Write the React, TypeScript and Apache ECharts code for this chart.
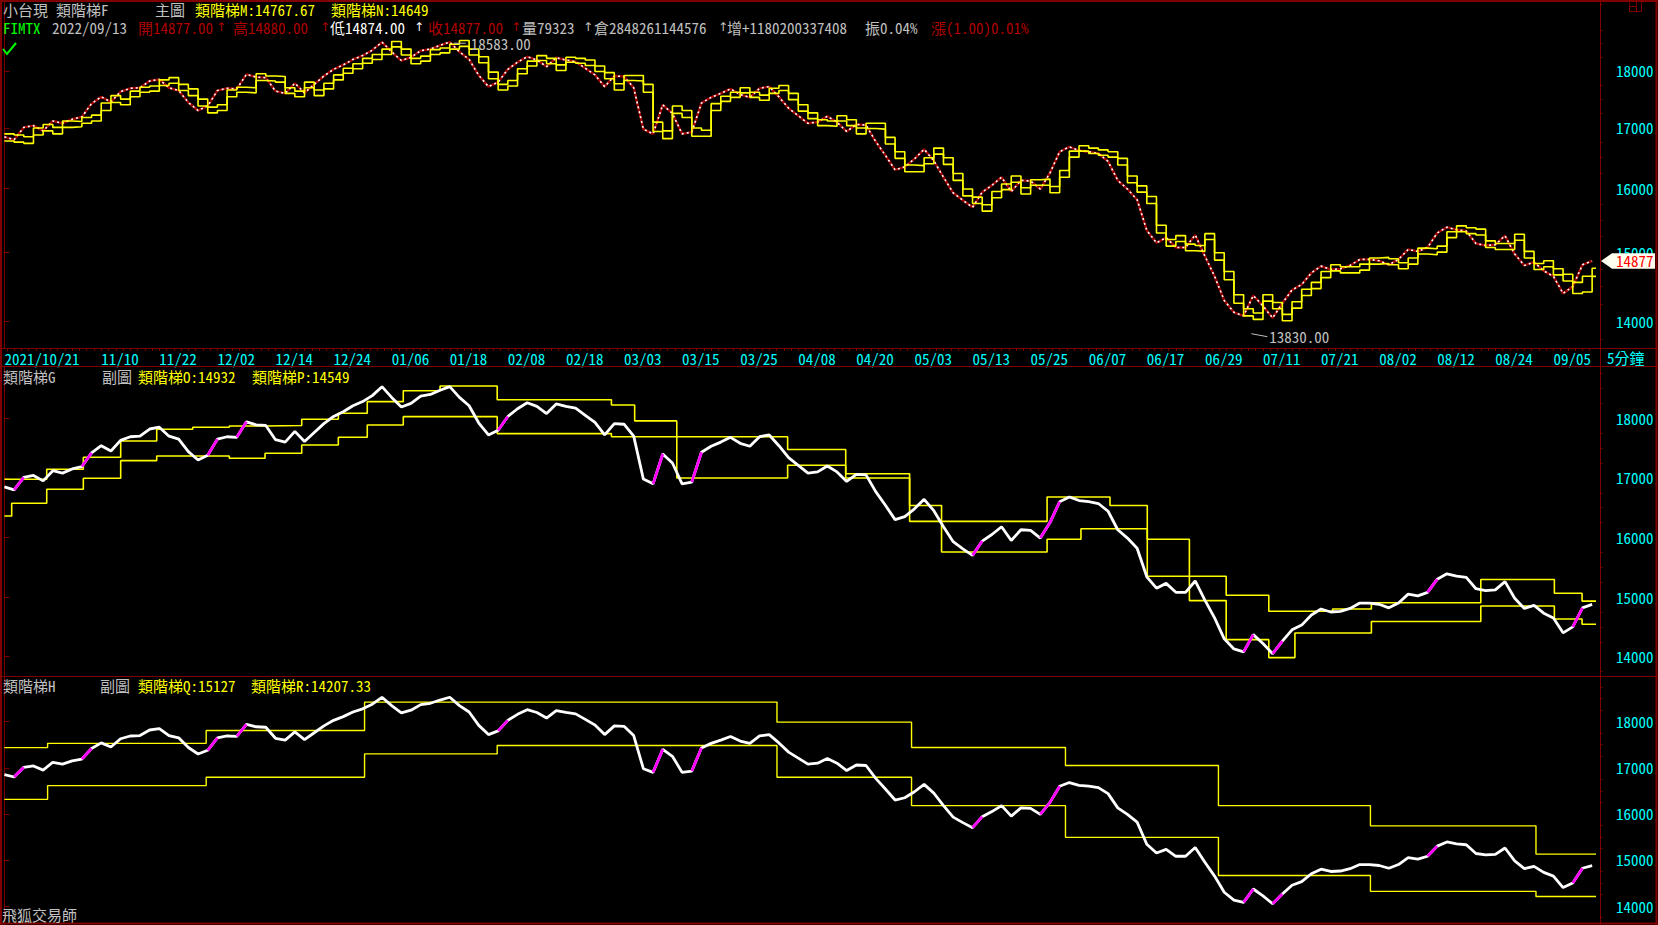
import React, { useEffect, useRef } from "react";
import * as echarts from "echarts";

const WIDTH = 1658;
const HEIGHT = 925;
const FONT = "'Noto Sans Mono CJK TC', 'Noto Sans Mono CJK SC', 'DejaVu Sans Mono', 'Noto Sans CJK TC', monospace";
const ARROW_FONT = "'DejaVu Sans', sans-serif";

const FRAME = "#800000";
const CYAN = "#00ffff";
const YELLOW = "#ffff00";
const GRAY = "#c0c0c0";
const DARKRED = "#b00000";
const MAGENTA = "#ff00ff";

// 小台現 closes, one sample per bar slot on the x axis
const closes = [
  16850, 16800, 17010, 17040, 16950, 17120, 17080, 17150, 17190, 17420,
  17540, 17450, 17630, 17690, 17700, 17820, 17850, 17700, 17650, 17440,
  17300, 17380, 17650, 17690, 17680, 17940, 17890, 17880, 17640, 17600,
  17780, 17610, 17760, 17910, 18030, 18110, 18210, 18280, 18380, 18530,
  18350, 18190, 18250, 18370, 18400, 18470, 18530, 18350, 18210, 17920,
  17720, 17800, 18030, 18160, 18260, 18200, 18080, 18240, 18200, 18170,
  18050, 17930, 17720, 17910, 17900, 17700, 16980, 16900, 17400, 17250,
  16900, 16930, 17430, 17530, 17600, 17680, 17580, 17530, 17690, 17720,
  17540, 17340, 17210, 17080, 17100, 17200, 17100, 16940, 17060, 17050,
  16770, 16540, 16300, 16350, 16480, 16640, 16450, 16180, 15930, 15810,
  15700, 15940, 16050, 16180, 15950, 16130, 16120, 15990, 16250, 16600,
  16680, 16620, 16600, 16570, 16440, 16130, 15990, 15820, 15340, 15150,
  15230, 15080, 15080, 15270, 14950, 14650, 14300, 14130, 14080, 14370,
  14220, 14050, 14260, 14450, 14530, 14700, 14800, 14750, 14760, 14810,
  14900, 14900, 14880, 14820, 14900, 15050, 15020, 15080, 15300, 15390,
  15350, 15330, 15140, 15110, 15120, 15260, 14980, 14810, 14860, 14730,
  14650, 14400, 14500, 14820, 14877,
];

// daily staircase 類階梯M (upper) and 類階梯N (lower), one level per bar slot
const stepM = [
  16900, 16880, 16850, 17000, 17060, 17010, 17120, 17110, 17180, 17220,
  17430, 17560, 17500, 17640, 17710, 17730, 17840, 17880, 17760, 17680,
  17500, 17360, 17400, 17660, 17710, 17700, 17950, 17910, 17900, 17700,
  17640, 17800, 17660, 17780, 17930, 18050, 18130, 18230, 18300, 18400,
  18540, 18400, 18230, 18270, 18390, 18420, 18490, 18560, 18400, 18260,
  17980, 17760, 17830, 18040, 18180, 18280, 18230, 18110, 18250, 18230,
  18200, 18090, 17970, 17770, 17920, 17920, 17760, 17100, 16950, 17380,
  17300, 17000, 16960, 17420, 17550, 17620, 17700, 17620, 17570, 17690,
  17740, 17600, 17400, 17260, 17140, 17120, 17210, 17140, 17000, 17080,
  17080, 16840, 16600, 16380, 16370, 16500, 16660, 16500, 16240, 15990,
  15860, 15740, 15950, 16070, 16200, 16010, 16140, 16150, 16030, 16290,
  16610, 16700, 16660, 16630, 16600, 16490, 16200, 16040, 15870, 15420,
  15200, 15260, 15130, 15110, 15290, 15000, 14720, 14380, 14180, 14120,
  14380, 14270, 14100, 14280, 14460, 14560, 14720, 14820, 14790, 14790,
  14830, 14920, 14930, 14910, 14850, 14920, 15070, 15060, 15100, 15320,
  15410, 15380, 15360, 15180, 15140, 15140, 15280, 15020, 14840, 14880,
  14760, 14680, 14560, 14650, 14768,
];
const stepN = [
  16780, 16760, 16740, 16880, 16950, 16900, 17010, 17020, 17080, 17120,
  17300, 17440, 17400, 17540, 17620, 17640, 17740, 17780, 17650, 17560,
  17380, 17260, 17300, 17540, 17620, 17610, 17830, 17820, 17800, 17600,
  17540, 17700, 17560, 17680, 17840, 17960, 18040, 18140, 18210, 18300,
  18440, 18290, 18130, 18180, 18300, 18330, 18400, 18450, 18290, 18150,
  17860, 17660, 17730, 17950, 18090, 18190, 18130, 18010, 18160, 18140,
  18100, 17990, 17860, 17660, 17830, 17820, 17620, 16940, 16820, 17250,
  17180, 16860, 16860, 17300, 17460, 17530, 17610, 17530, 17480, 17600,
  17650, 17490, 17290, 17160, 17040, 17030, 17120, 17040, 16900, 16990,
  16980, 16730, 16490, 16270, 16270, 16400, 16560, 16390, 16130, 15880,
  15760, 15640, 15850, 15980, 16100, 15910, 16050, 16050, 15930, 16180,
  16510, 16610, 16570, 16540, 16510, 16380, 16090, 15940, 15760, 15300,
  15100, 15170, 15030, 15020, 15200, 14890, 14600, 14260, 14080, 14030,
  14290, 14180, 14010, 14190, 14370, 14470, 14630, 14730, 14700, 14700,
  14740, 14830, 14840, 14820, 14760, 14830, 14980, 14970, 15010, 15230,
  15320, 15290, 15270, 15080, 15050, 15050, 15190, 14920, 14750, 14790,
  14670, 14580, 14400, 14420, 14649,
];

// date labels along the time axis and the bar slot each starts at
const dateLabels = [
  "2021/10/21", "11/10", "11/22", "12/02", "12/14", "12/24", "01/06", "01/18", "02/08",
  "02/18", "03/03", "03/15", "03/25", "04/08", "04/20", "05/03", "05/13", "05/25",
  "06/07", "06/17", "06/29", "07/11", "07/21", "08/02", "08/12", "08/24", "09/05",
];
const dateLabelSlots = [
  0, 10, 16, 22, 28, 34, 40, 46, 52, 58, 64, 70, 76, 82, 88, 94, 100, 106,
  112, 118, 124, 130, 136, 142, 148, 154, 160,
];

// weekly staircase levels: [slot where the level starts, level]
const stepO = [
  [0, 16976], [0.75, 16976], [4.37, 17144], [8.15, 17346], [12.01, 17619], [15.73, 17815],
  [19.45, 17849], [23.23, 17870], [26.92, 17880], [30.71, 17983], [34.49, 18084], [37.48, 18279],
  [41.2, 18463], [45.0, 18541], [48.8, 18541], [50.9, 18310], [54.7, 18310], [58.5, 18310],
  [62.7, 18222], [65.1, 17956], [69.45, 17690], [73.2, 17690], [77, 17690], [80.9, 17477],
  [86.9, 17069], [90.2, 17069], [93.5, 16537], [96.8, 16271], [100.5, 16271], [104.2, 16271],
  [107.7, 16679], [111.2, 16679], [114.2, 16537], [118.05, 15970], [122.4, 15349], [126.2, 15030],
  [130.6, 14763], [133.3, 14763], [137.2, 14800], [141.2, 14906], [145, 14906], [148.8, 14906],
  [152.5, 15296], [156.3, 15296], [160.1, 15064], [162.96, 14932], [164.4, 14932],
];
const stepP = [
  [0, 16360], [0.75, 16574], [4.37, 16809], [8.15, 16993], [12.01, 17289], [15.73, 17367],
  [19.45, 17367], [23.23, 17329], [26.92, 17413], [30.71, 17552], [34.49, 17681], [37.48, 17888],
  [41.2, 18027], [45.0, 18027], [48.8, 18027], [50.9, 17743], [54.7, 17743], [58.5, 17743],
  [62.7, 17690], [65.1, 17690], [69.45, 16998], [73.2, 16998], [77, 16998], [80.9, 17211],
  [86.9, 16998], [90.2, 16998], [93.5, 16271], [96.8, 15757], [100.5, 15757], [104.2, 15757],
  [107.7, 15970], [111.2, 16147], [114.2, 16147], [118.05, 15349], [122.4, 14941], [126.2, 14286],
  [130.6, 13985], [133.3, 14397], [137.2, 14397], [141.2, 14590], [145, 14590], [148.8, 14590],
  [152.5, 14850], [156.3, 14850], [160.1, 14632], [162.96, 14544], [164.4, 14544],
];

// monthly staircase levels
const stepQ = [
  [0, 17438], [4.46, 17530], [20.84, 17810], [37.2, 18425], [50.9, 18425], [62.45, 18425],
  [79.8, 17990], [93.7, 17440], [109.6, 17050], [125.4, 16180], [141.1, 15740], [158.2, 15127],
  [164.4, 15127],
];
const stepR = [
  [0, 16315], [4.46, 16614], [20.84, 16796], [37.2, 17301], [50.9, 17484], [62.45, 17484],
  [79.8, 16796], [93.7, 16178], [109.6, 15490], [125.4, 14664], [141.1, 14319], [158.2, 14207.33],
  [164.4, 14207.33],
];

const lastClose = 14877;
const rangeHigh = { slot: 46.4, value: 18583 };
const rangeLow = { slot: 128.8, value: 13830 };

const priceTicks = [14000, 15000, 16000, 17000, 18000];

const X_MIN = -0.25;
const X_MAX = 164.4;

// panel value ranges (top panel is on a log scale)
const TOP_MIN = 13633;
const TOP_MAX = 19290;
const MID_MIN = 13676;
const MID_MAX = 18877;
const BOT_MIN = 13632;
const BOT_MAX = 18970;

function minorTicks(lo: number, hi: number) {
  const out: number[] = [];
  for (let v = Math.ceil(lo / 250) * 250; v <= hi; v += 250) {
    if (v % 1000 !== 0) out.push(v);
  }
  return out;
}

function yPair(gridIndex: number, min: number, max: number, toAxis: (v: number) => number, fromAxis: (v: number) => number) {
  return [
    {
      type: "value", gridIndex, position: "right", offset: 4, min: toAxis(min), max: toAxis(max),
      axisLine: { show: true, lineStyle: { color: FRAME, width: 1 } },
      axisTick: { show: true, customValues: priceTicks.map(toAxis), length: 5, lineStyle: { color: FRAME } },
      axisLabel: {
        show: true, customValues: priceTicks.map(toAxis), margin: 16, align: "left",
        color: CYAN, fontFamily: FONT, fontSize: 15,
        formatter: (v: number) => String(Math.round(fromAxis(v))),
      },
      splitLine: { show: false },
    },
    {
      type: "value", gridIndex, position: "right", offset: 4, min: toAxis(min), max: toAxis(max),
      axisLine: { show: false },
      axisTick: { show: true, customValues: minorTicks(min, max).map(toAxis), length: 2.5, lineStyle: { color: FRAME } },
      axisLabel: { show: false },
      splitLine: { show: false },
    },
  ];
}

function stepSeries(data: number[][], xAxisIndex: number, yAxisIndex: number, width: number) {
  return {
    type: "line", xAxisIndex, yAxisIndex, step: "end", data, symbol: "none",
    lineStyle: { color: YELLOW, width }, silent: true,
  };
}

// daily levels become [slot, log level] pairs, held to the right edge
function dailySteps(levels: number[]) {
  const pts = levels.map((v, i) => [i, Math.log(v)]);
  pts.push([X_MAX, Math.log(levels[levels.length - 1])]);
  return pts;
}

function risingSegments(values: number[]) {
  const out: number[][] = [];
  for (let i = 1; i < values.length; i++) {
    if (values[i] - values[i - 1] >= 200) {
      out.push([i - 1, values[i - 1]], [i, values[i]], [i + 0.5, NaN]);
    }
  }
  return out;
}

export default function App() {
  const ref = useRef<HTMLDivElement>(null);

  useEffect(() => {
    document.body.style.margin = "0";
    document.body.style.background = "#000";
    const chart = echarts.init(ref.current!, null, { renderer: "svg", width: WIDTH, height: HEIGHT });

    const dayTicks: number[] = [];
    for (let t = 0.25; t <= X_MAX; t += 0.75) dayTicks.push(Math.round(t * 100) / 100);

    const xAxes = [0, 1, 2].map((g) => ({
      type: "value", gridIndex: g, min: X_MIN, max: X_MAX, show: g === 0, position: "bottom",
      axisLine: { show: true, lineStyle: { color: FRAME, width: 1 } },
      axisTick: { show: true, customValues: dayTicks, length: 3, lineStyle: { color: FRAME } },
      axisLabel: {
        show: g === 0, customValues: dateLabelSlots, margin: 3, align: "left",
        color: CYAN, fontFamily: FONT, fontSize: 15,
        formatter: (v: number) => dateLabels[dateLabelSlots.indexOf(v)] ?? "",
      },
      splitLine: { show: false },
    }));

    const lin = (v: number) => v;
    const yAxes = [
      ...yPair(0, TOP_MIN, TOP_MAX, Math.log, Math.exp),
      ...yPair(1, MID_MIN, MID_MAX, lin, lin),
      ...yPair(2, BOT_MIN, BOT_MAX, lin, lin),
    ];

    const pricePairs = closes.map((v, i) => [i, v]);
    const logPairs = closes.map((v, i) => [i, Math.log(v)]);
    const rising = risingSegments(closes);

    const option: any = {
      animation: false,
      backgroundColor: "#000",
      grid: [
        { left: 2, top: 2, width: 1594, height: 346 },
        { left: 2, top: 366, width: 1594, height: 310 },
        { left: 2, top: 677, width: 1594, height: 246 },
      ],
      xAxis: xAxes,
      yAxis: yAxes,
      series: [
        // main chart: candles drawn as a red/white dotted trace, daily staircase on top
        { type: "line", xAxisIndex: 0, yAxisIndex: 0, symbol: "none", data: logPairs, lineStyle: { color: "#a00000", width: 2.4 } },
        { type: "line", xAxisIndex: 0, yAxisIndex: 0, symbol: "none", data: logPairs, lineStyle: { color: "#ffffff", width: 1.6, type: [2, 3] } },
        { type: "line", xAxisIndex: 0, yAxisIndex: 0, step: "end", symbol: "none", data: dailySteps(stepM), lineStyle: { color: YELLOW, width: 1.6 } },
        { type: "line", xAxisIndex: 0, yAxisIndex: 0, step: "end", symbol: "none", data: dailySteps(stepN), lineStyle: { color: YELLOW, width: 1.6 } },
        // weekly sub-chart
        stepSeries(stepO, 1, 2, 1.6),
        stepSeries(stepP, 1, 2, 1.6),
        { type: "line", xAxisIndex: 1, yAxisIndex: 2, symbol: "none", data: pricePairs, lineStyle: { color: "#ffffff", width: 2.8 } },
        { type: "line", xAxisIndex: 1, yAxisIndex: 2, symbol: "none", data: rising, lineStyle: { color: MAGENTA, width: 2.8 } },
        // monthly sub-chart
        stepSeries(stepQ, 2, 4, 1.4),
        stepSeries(stepR, 2, 4, 1.4),
        { type: "line", xAxisIndex: 2, yAxisIndex: 4, symbol: "none", data: pricePairs, lineStyle: { color: "#ffffff", width: 2.8 } },
        { type: "line", xAxisIndex: 2, yAxisIndex: 4, symbol: "none", data: rising, lineStyle: { color: MAGENTA, width: 2.8 } },
      ],
    };
    chart.setOption(option);

    const toPx = (x: number, v: number) => chart.convertToPixel({ seriesIndex: 0 }, [x, Math.log(v)]) as number[];
    const [, lastY] = toPx(closes.length - 1, lastClose);
    const [hx, hy] = toPx(rangeHigh.slot, rangeHigh.value);
    const [lx, ly] = toPx(rangeLow.slot, rangeLow.value);

    const txt = (x: number, y: number, text: string, fill: string, size = 15, family = FONT) => ({
      type: "text", silent: true, z: 100,
      style: { x, y, text, fill, fontSize: size, fontFamily: family, align: "left", verticalAlign: "middle", textAlign: "left", textVerticalAlign: "middle" },
    });
    const arrow = (x: number, y: number, fill: string) => txt(x, y, "↑", fill, 12, ARROW_FONT);
    const ln = (x1: number, y1: number, x2: number, y2: number, stroke = FRAME, lineWidth = 1) => ({
      type: "line", silent: true, z: 90, shape: { x1, y1, x2, y2 }, style: { stroke, lineWidth },
    });

    const graphics: any[] = [
      // frame
      ln(0, 1, WIDTH, 1, FRAME, 2),
      ln(1, 0, 1, HEIGHT, FRAME, 2),
      ln(1656.5, 0, 1656.5, HEIGHT, FRAME, 2),
      ln(0, 923.5, WIDTH, 923.5, FRAME, 2),
      ln(1600.5, 0, 1600.5, HEIGHT),
      ln(0, 348.5, WIDTH, 348.5),
      ln(0, 366.5, WIDTH, 366.5),
      ln(0, 676.5, WIDTH, 676.5),
      // window icon
      { type: "rect", silent: true, z: 90, shape: { x: 1629.5, y: 1.5, width: 12, height: 10 }, style: { stroke: FRAME, fill: "none", lineWidth: 1 } },
      ln(1636.5, 1.5, 1636.5, 11.5),
      ln(1629.5, 6.5, 1636.5, 6.5),
      // header, main chart
      txt(3, 9, "小台現", GRAY),
      txt(56, 9, "類階梯F", GRAY),
      txt(155, 9, "主圖", GRAY),
      txt(195, 9, "類階梯M:14767.67", YELLOW),
      txt(331, 9, "類階梯N:14649", YELLOW),
      txt(3, 27, "FIMTX", "#00ff00"),
      txt(52, 27, "2022/09/13", GRAY),
      txt(138, 27, "開14877.00", DARKRED),
      arrow(216, 27, DARKRED),
      txt(233, 27, "高14880.00", DARKRED),
      arrow(320, 27, DARKRED),
      txt(330, 27, "低14874.00", "#ffffff"),
      arrow(414, 27, "#ffffff"),
      txt(428, 27, "收14877.00", DARKRED),
      arrow(511, 27, DARKRED),
      txt(522, 27, "量79323", GRAY),
      arrow(583, 27, GRAY),
      txt(594, 27, "倉2848261144576", GRAY),
      arrow(718, 27, GRAY),
      txt(727, 27, "增+1180200337408", GRAY),
      txt(865, 27, "振0.04%", GRAY),
      txt(931, 27, "漲(1.00)0.01%", DARKRED),
      { type: "polyline", silent: true, z: 90, shape: { points: [[3, 49], [7, 54], [16, 43]] }, style: { stroke: "#00ff00", lineWidth: 2, fill: "none" } },
      // extremes
      ln(hx, hy + 4, hx + 12, hy + 4, GRAY),
      txt(hx + 17, hy + 4, "18583.00", GRAY),
      ln(lx, ly, lx + 16, ly + 3, GRAY),
      txt(lx + 18, ly + 3, "13830.00", GRAY),
      // last price tag
      {
        type: "polygon", silent: true, z: 95,
        shape: { points: [[1601, lastY], [1612, lastY - 7.7], [1655, lastY - 7.7], [1655, lastY + 7.7], [1612, lastY + 7.7]] },
        style: { fill: "#fffff0", stroke: "none" },
      },
      txt(1616, lastY, String(lastClose), "#ff0000"),
      txt(1607, 357, "5分鐘", CYAN),
      // sub-chart headers
      txt(3, 376, "類階梯G", GRAY),
      txt(102, 376, "副圖", GRAY),
      txt(138, 376, "類階梯O:14932", YELLOW),
      txt(252, 376, "類階梯P:14549", YELLOW),
      txt(3, 685, "類階梯H", GRAY),
      txt(100, 685, "副圖", GRAY),
      txt(138, 685, "類階梯Q:15127", YELLOW),
      txt(251, 685, "類階梯R:14207.33", YELLOW),
      txt(2, 914, "飛狐交易師", GRAY),
    ];
    chart.setOption({ graphic: graphics });

    return () => chart.dispose();
  }, []);

  return <div ref={ref} style={{ position: "fixed", left: 0, top: 0, width: WIDTH, height: HEIGHT, background: "#000" }} />;
}
